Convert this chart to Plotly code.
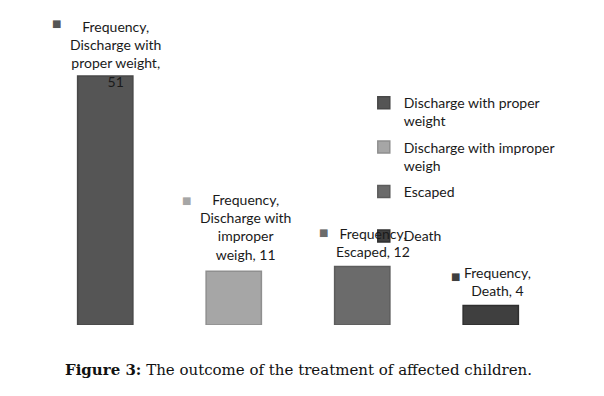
import plotly.graph_objects as go

# ---- data ----
categories = ["Discharge with proper weight", "Discharge with improper weigh", "Escaped", "Death"]
legend_names = ["Discharge with proper<br>weight", "Discharge with improper<br>weigh", "Escaped<br>&nbsp;", "Death"]
frequency = [51, 11, 12, 4]
label_texts = [
    "Frequency,<br>Discharge with<br>proper weight,<br>51",
    "Frequency,<br>Discharge with<br>improper<br>weigh, 11",
    "Frequency,<br>Escaped, 12",
    "Frequency,<br>Death, 4",
]
caption = "<b>Figure 3:</b> The outcome of the treatment of affected children."

# ---- style ----
colors = ["#555555", "#a6a6a6", "#6b6b6b", "#3f3f3f"]
edge_colors = ["#484848", "#8f8f8f", "#5c5c5c", "#2f2f2f"]
label_dx = [10, 11.5, 11, 7]        # text-block offset from bar centre (px)
label_dy = [22, 44, 23.5, 23.5]     # text-block centre above bar top (px)
icon_dx = [-49, -47.5, -39, -35]
icon_dy = [52, 71, 34, 29]
FONT = "Lato"

fig = go.Figure()
for i, cat in enumerate(categories):
    fig.add_trace(go.Bar(
        x=[cat], y=[frequency[i]], name=legend_names[i], legendgroup=str(i),
        width=0.43,
        marker=dict(color=colors[i], line=dict(color=edge_colors[i], width=1.5)),
        hoverinfo="skip",
    ))
    fig.add_annotation(x=cat, y=frequency[i], xref="x", yref="y",
                       text=label_texts[i], showarrow=False,
                       xanchor="center", yanchor="middle",
                       xshift=label_dx[i], yshift=label_dy[i],
                       font=dict(family=FONT, size=14, color="#1a1a1a"), align="center")
    fig.add_annotation(x=cat, y=frequency[i], xref="x", yref="y",
                       text="■", showarrow=False,
                       xanchor="center", yanchor="middle",
                       xshift=icon_dx[i], yshift=icon_dy[i],
                       font=dict(family="DejaVu Sans", size=10, color=colors[i]))

fig.add_annotation(text=caption, xref="paper", yref="paper", x=0.5, y=-0.1536,
                   xanchor="center", yanchor="middle", showarrow=False,
                   font=dict(family="DejaVu Serif", size=15, color="#111111"))

fig.update_layout(
    width=604, height=396,
    margin=dict(l=41, r=49, t=32, b=71),
    paper_bgcolor="white", plot_bgcolor="white",
    barmode="overlay",
    showlegend=True,
    legend=dict(x=0.628, y=0.812, xanchor="left", yanchor="top",
                bgcolor="rgba(0,0,0,0)", valign="top", tracegroupgap=5,
                font=dict(family=FONT, size=14, color="#1a1a1a")),
    xaxis=dict(visible=False, range=[-0.5, 3.5]),
    yaxis=dict(visible=False, range=[0, 60]),
)

fig.write_html("out.html", config={"displayModeBar": False},
               post_script="document.body.style.margin='0';")
